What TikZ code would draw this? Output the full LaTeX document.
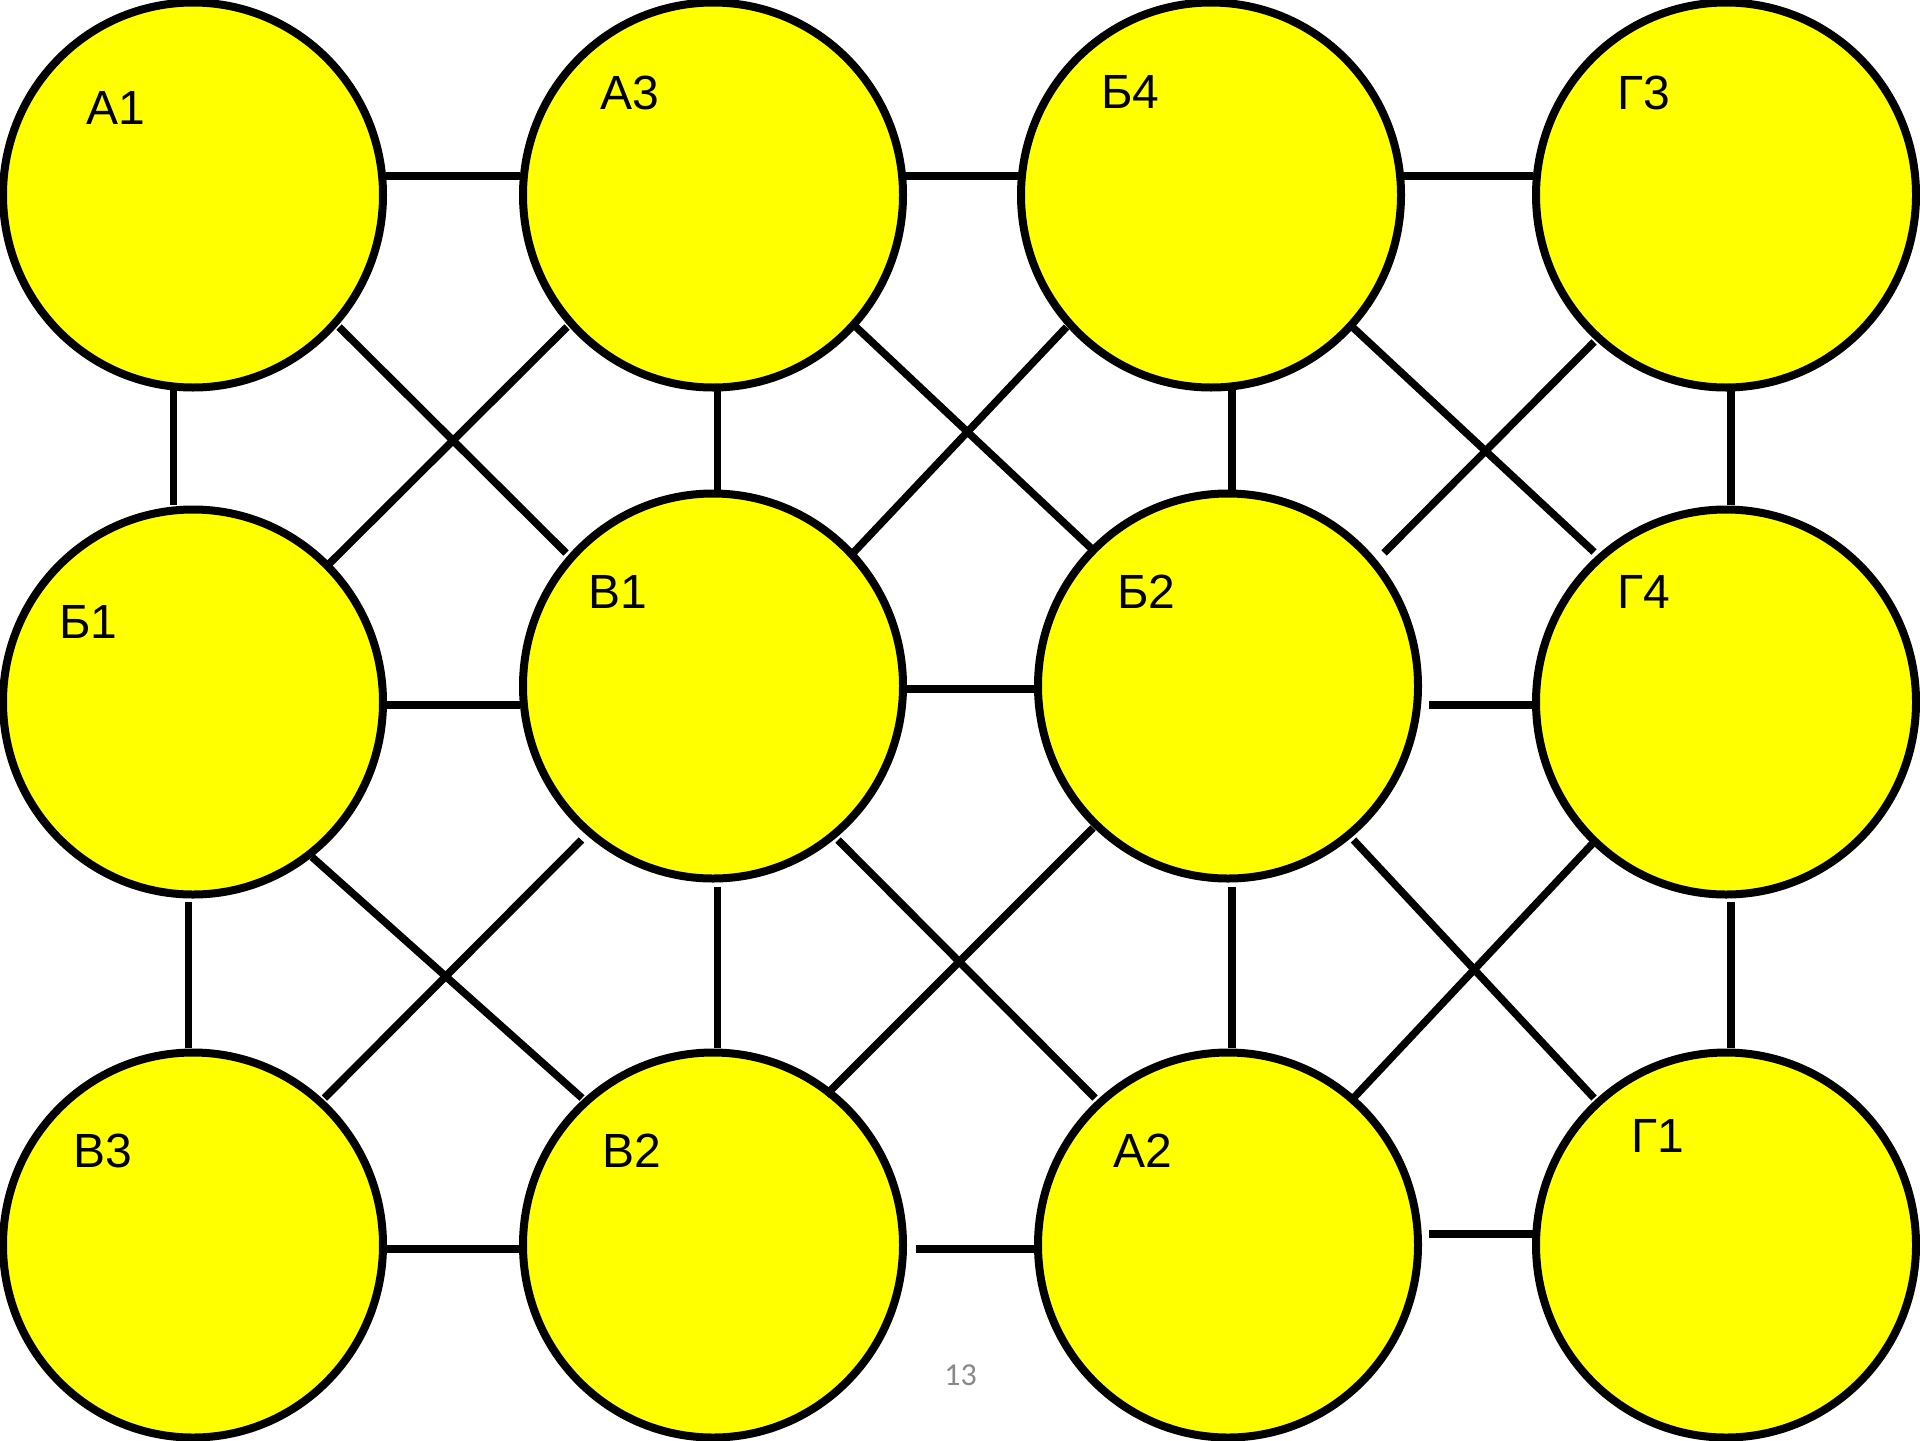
\documentclass[tikz,border=0pt]{standalone}
\usepackage{fontspec}
\newfontfamily\labfont{Liberation Sans}
\newfontfamily\numfont{Carlito}
\usetikzlibrary{calc,shapes.geometric}
\definecolor{pureyellow}{RGB}{255,255,0}
\definecolor{pgnum}{RGB}{137,137,137}
\begin{document}
\begin{tikzpicture}[x=0.5pt,y=-0.5pt,
  vert/.style={ellipse, draw=black, fill=pureyellow, line width=4pt, minimum width=190pt, minimum height=192.5pt, inner sep=0pt},
  lab/.style={anchor=base west, inner sep=0pt, font=\labfont\fontsize{24}{28}\selectfont},
  conn/.style={draw=black, line width=3.75pt},
  pnum/.style={anchor=base west, inner sep=0pt, text=pgnum, font=\numfont\fontsize{16}{19}\selectfont}]
\fill[white] (0,0) rectangle (1920,1440);
\useasboundingbox (0,0) rectangle (1920,1440);
% vertices
\node[vert] (A1) at (193,195) {};
\node[vert] (A3) at (713,195) {};
\node[vert] (B4) at (1211,195) {};
\node[vert] (G3) at (1726,195) {};
\node[vert] (B1) at (193,702) {};
\node[vert] (V1) at (713,686) {};
\node[vert] (B2) at (1228,686) {};
\node[vert] (G4) at (1726,702) {};
\node[vert] (V3) at (193,1245) {};
\node[vert] (V2) at (713,1245) {};
\node[vert] (A2) at (1228,1245) {};
\node[vert] (G1) at (1726,1245) {};
% connectors row 1
\draw[conn] ($(A1)+(193,-19)$) -- ($(A3)+(-193,-19)$);
\draw[conn] ($(A3)+(188,-19)$) -- ($(B4)+(-191,-19)$);
\draw[conn] ($(B4)+(187,-19)$) -- ($(G3)+(-193,-19)$);
% vertical row1-2
\draw[conn] ($(A1)+(-19.5,193)$) -- ($(B1)+(-19.5,-197)$);
\draw[conn] ($(A3)+(4.5,193)$) -- ($(V1)+(4.5,-196)$);
\draw[conn] ($(B4)+(21,193)$) -- ($(B2)+(4,-196)$);
\draw[conn] ($(G3)+(5,193)$) -- ($(G4)+(5,-197)$);
% diagonals row1-2
\draw[conn] ($(A1)+(146,132)$) -- ($(V1)+(-147,-133)$);
\draw[conn] ($(A3)+(-146,132)$) -- ($(B1)+(134,-136)$);
\draw[conn] ($(A3)+(143,132)$) -- ($(B2)+(-135,-136)$);
\draw[conn] ($(B4)+(-144.5,132)$) -- ($(V1)+(141,-134)$);
\draw[conn] ($(B4)+(142.5,133)$) -- ($(G4)+(-132,-150)$);
\draw[conn] ($(G3)+(-132,147)$) -- ($(B2)+(156,-133)$);
% row 2
\draw[conn] ($(B1)+(193,3)$) -- ($(V1)+(-193,19)$);
\draw[conn] ($(V1)+(188,3)$) -- ($(B2)+(-194,3)$);
\draw[conn] ($(B2)+(201,19)$) -- ($(G4)+(-193,3)$);
% vertical row2-3
\draw[conn] ($(B1)+(-4.5,200)$) -- ($(V3)+(-4.5,-197)$);
\draw[conn] ($(V1)+(4.5,201)$) -- ($(V2)+(4.5,-197)$);
\draw[conn] ($(B2)+(4,201)$) -- ($(A2)+(4,-197)$);
\draw[conn] ($(G4)+(5,200)$) -- ($(G1)+(5,-197)$);
% diagonals row2-3
\draw[conn] ($(B1)+(119,155)$) -- ($(V2)+(-131,-147)$);
\draw[conn] ($(V1)+(-131.5,154)$) -- ($(V3)+(131.5,-147)$);
\draw[conn] ($(V1)+(125,154)$) -- ($(A2)+(-133,-147)$);
\draw[conn] ($(B2)+(-135,142)$) -- ($(V2)+(113,-150)$);
\draw[conn] ($(B2)+(125.5,154)$) -- ($(G1)+(-132,-147)$);
\draw[conn] ($(G4)+(-132,140)$) -- ($(A2)+(125.5,-147)$);
% row 3
\draw[conn] ($(V3)+(193,4)$) -- ($(V2)+(-193,4)$);
\draw[conn] ($(V2)+(202.5,4)$) -- ($(A2)+(-194,4)$);
\draw[conn] ($(A2)+(201,-11)$) -- ($(G1)+(-193,-11)$);
% labels
\node[lab] (lA1) at (86,124) {А1};
\node[lab] (lA3) at (600,109) {А3};
\node[lab] (lB4) at (1101,108) {Б4};
\node[lab] (lG3) at (1617,109) {Г3};
\node[lab] (lB1) at (59,638) {Б1};
\node[lab] (lV1) at (588,608) {В1};
\node[lab] (lB2) at (1117,608) {Б2};
\node[lab] (lG4) at (1617,608) {Г4};
\node[lab] (lV3) at (73,1167) {В3};
\node[lab] (lV2) at (602,1167) {В2};
\node[lab] (lA2) at (1113,1167) {А2};
\node[lab] (lG1) at (1631,1152) {Г1};
\node[pnum] (pg) at (944,1385) {13};
\end{tikzpicture}
\end{document}
